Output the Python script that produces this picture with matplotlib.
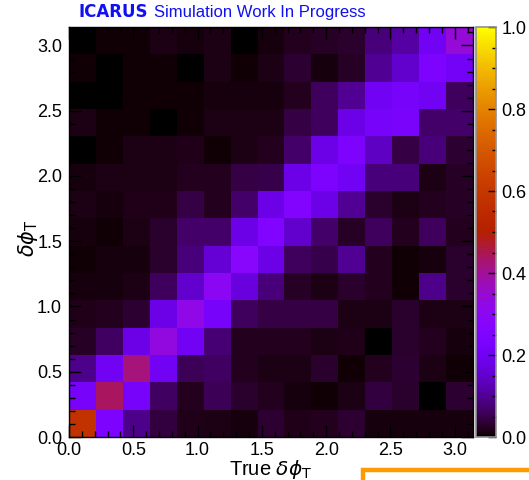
import numpy as np
import matplotlib
matplotlib.use('Agg')
import matplotlib.pyplot as plt
from matplotlib.patches import Rectangle
from matplotlib.ticker import MultipleLocator

plt.rcParams['font.family'] = ['Liberation Sans', 'DejaVu Sans']

# bin edges (0 .. pi, 15 bins on each axis)
n_bins = 15
true_edges = np.linspace(0, np.pi, n_bins + 1)
reco_edges = np.linspace(0, np.pi, n_bins + 1)

# normalised counts, rows listed from top (reco ~ pi) to bottom (reco ~ 0)
smearing_rows = [
    [0.0, 0.006, 0.007, 0.015, 0.01, 0.015, 0.0, 0.01, 0.02, 0.025, 0.03, 0.08, 0.11, 0.2, 0.34],
    [0.006, 0.0, 0.006, 0.006, 0.0, 0.014, 0.005, 0.012, 0.035, 0.008, 0.025, 0.1, 0.15, 0.24, 0.21],
    [0.0, 0.0, 0.006, 0.007, 0.006, 0.008, 0.008, 0.01, 0.02, 0.06, 0.1, 0.2, 0.22, 0.2, 0.06],
    [0.015, 0.006, 0.006, 0.0, 0.006, 0.012, 0.012, 0.012, 0.045, 0.06, 0.18, 0.22, 0.23, 0.07, 0.07],
    [0.0, 0.006, 0.012, 0.012, 0.018, 0.007, 0.015, 0.02, 0.07, 0.18, 0.24, 0.14, 0.045, 0.08, 0.035],
    [0.008, 0.012, 0.012, 0.012, 0.02, 0.02, 0.045, 0.05, 0.18, 0.24, 0.2, 0.08, 0.08, 0.012, 0.025],
    [0.012, 0.01, 0.016, 0.016, 0.045, 0.02, 0.07, 0.18, 0.26, 0.18, 0.1, 0.028, 0.012, 0.02, 0.025],
    [0.01, 0.004, 0.012, 0.03, 0.07, 0.07, 0.18, 0.25, 0.15, 0.07, 0.025, 0.06, 0.02, 0.06, 0.02],
    [0.006, 0.008, 0.01, 0.028, 0.08, 0.16, 0.28, 0.18, 0.06, 0.05, 0.1, 0.02, 0.005, 0.01, 0.03],
    [0.008, 0.008, 0.015, 0.06, 0.15, 0.3, 0.17, 0.08, 0.025, 0.012, 0.028, 0.022, 0.007, 0.09, 0.028],
    [0.016, 0.02, 0.035, 0.18, 0.32, 0.22, 0.06, 0.045, 0.045, 0.045, 0.015, 0.012, 0.028, 0.012, 0.015],
    [0.025, 0.065, 0.18, 0.33, 0.2, 0.075, 0.02, 0.02, 0.02, 0.012, 0.016, 0.003, 0.028, 0.022, 0.008],
    [0.09, 0.2, 0.42, 0.2, 0.055, 0.065, 0.02, 0.015, 0.015, 0.03, 0.004, 0.02, 0.035, 0.014, 0.006],
    [0.22, 0.44, 0.22, 0.065, 0.022, 0.055, 0.028, 0.022, 0.01, 0.005, 0.012, 0.04, 0.03, 0.003, 0.035],
    [0.58, 0.24, 0.09, 0.04, 0.018, 0.015, 0.008, 0.035, 0.016, 0.02, 0.035, 0.008, 0.008, 0.008, 0.008],
]

xticks = [0.0, 0.5, 1.0, 1.5, 2.0, 2.5, 3.0]
cbar_ticks = [0.0, 0.2, 0.4, 0.6, 0.8, 1.0]

z = np.array(smearing_rows)[::-1]

W, H = 529, 480
fig = plt.figure(figsize=(W / 100, H / 100), dpi=100)
ax = fig.add_axes([69 / W, 1 - 437 / H, 404 / W, 410 / H])
cax = fig.add_axes([476 / W, 1 - 437 / H, 20 / W, 410 / H])

mesh = ax.pcolormesh(true_edges, reco_edges, z, cmap='gnuplot', vmin=0, vmax=1)
ax.set_xlim(0, np.pi)
ax.set_ylim(0, np.pi)

ax.set_xticks(xticks)
ax.set_yticks(xticks)
ax.xaxis.set_minor_locator(MultipleLocator(0.1))
ax.yaxis.set_minor_locator(MultipleLocator(0.1))
ax.tick_params(which='both', direction='in', top=True, right=True, color='black',
               labelsize=13)
ax.tick_params(which='major', length=8.5, width=1)
ax.tick_params(which='minor', length=4.3, width=1)
ax.tick_params(axis='x', pad=3.5)
ax.tick_params(axis='y', pad=5)
ax.set_xticklabels(['%.1f' % t for t in xticks])
ax.set_yticklabels(['%.1f' % t for t in xticks])
for s in ax.spines.values():
    s.set_linewidth(1)

ax.set_xlabel(r'True $\delta\phi_{\mathrm{T}}$', fontsize=14.5)
ax.xaxis.set_label_coords(0.5, -0.052)
ax.set_ylabel(r'$\delta\phi_{\mathrm{T}}$', fontsize=15)
ax.yaxis.set_label_coords(-0.073, 0.485)

cb = fig.colorbar(mesh, cax=cax)
cb.set_ticks(cbar_ticks)
cb.set_ticklabels(['%.1f' % t for t in cbar_ticks])
cb.ax.yaxis.set_minor_locator(MultipleLocator(0.05))
cb.ax.tick_params(which='both', direction='in', labelsize=13, pad=4)
cb.ax.tick_params(which='major', length=5.5, width=1)
cb.ax.tick_params(which='minor', length=3, width=1)
cb.outline.set_edgecolor('#909090')
cb.outline.set_linewidth(1.2)

# header
fig.text(79 / W, 1 - 17 / H, 'ICARUS', color='#1010f0', fontsize=12,
         family='DejaVu Sans', fontweight='bold', va='baseline')
fig.text(154 / W, 1 - 17 / H, 'Simulation Work In Progress', color='#1010f0',
         fontsize=12, va='baseline')

# edge of the box peeking in at the bottom right
fig.patches.append(Rectangle((362.5 / W, -0.1), 0.5, (480 - 470) / H + 0.1,
                             transform=fig.transFigure, facecolor='white',
                             edgecolor='#ff9a00', linewidth=3.2, clip_on=True))

fig.savefig('out.png', dpi=100)
